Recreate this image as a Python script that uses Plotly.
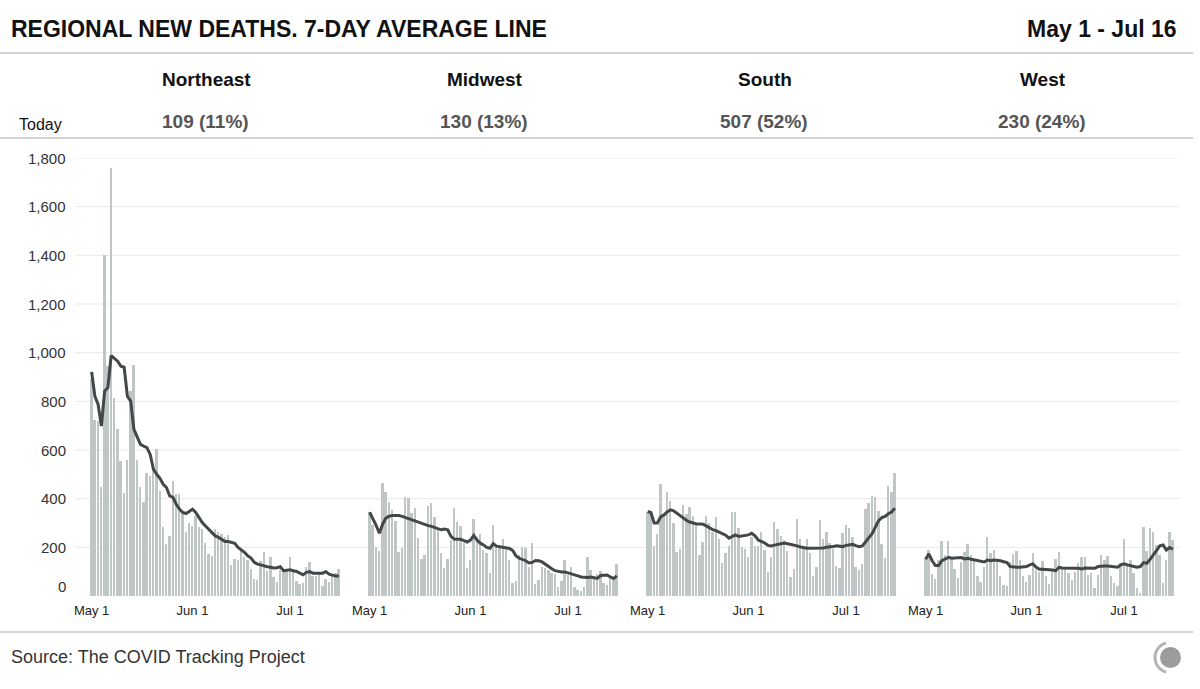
import math
import pandas as pd
import plotly.graph_objects as go

# ---------------- data ----------------
dates = pd.date_range("2020-05-01", "2020-07-16", freq="D")
regions = ["Northeast", "Midwest", "South", "West"]
today_labels = ["109 (11%)", "130 (13%)", "507 (52%)", "230 (24%)"]

ne_deaths = [890, 725, 718, 449, 1400, 945, 1760, 815, 686, 554,
             424, 558, 842, 951, 560, 446, 388, 507, 493, 535,
             603, 432, 282, 213, 247, 473, 418, 421, 336, 261,
             298, 288, 327, 282, 275, 216, 172, 165, 275, 261,
             254, 241, 250, 128, 152, 148, 183, 161, 148, 111,
             70, 67, 145, 182, 104, 159, 79, 56, 107, 104,
             104, 161, 104, 63, 49, 52, 118, 138, 83, 83,
             90, 42, 70, 56, 90, 95, 109]
ne_avg = [921, 821, 787, 698, 842, 856, 988, 976, 965, 944,
          940, 821, 801, 685, 650, 623, 616, 610, 582, 521,
          500, 484, 459, 446, 411, 405, 377, 357, 343, 339,
          347, 357, 343, 322, 302, 288, 275, 258, 247, 241,
          234, 224, 224, 219, 217, 200, 190, 179, 165, 156,
          138, 131, 128, 123, 120, 118, 115, 116, 120, 104,
          107, 108, 104, 101, 94, 87, 97, 100, 94, 93,
          94, 94, 100, 90, 86, 82, 82]

mw_deaths = [347, 292, 203, 185, 464, 429, 386, 354, 309, 180,
             196, 406, 402, 343, 361, 237, 151, 169, 370, 381,
             324, 272, 178, 117, 152, 230, 361, 306, 289, 217,
             117, 148, 316, 244, 254, 189, 178, 96, 291, 203,
             203, 235, 203, 148, 55, 63, 169, 200, 196, 121,
             217, 49, 66, 121, 117, 107, 93, 91, 38, 63,
             148, 86, 121, 38, 25, 22, 38, 159, 107, 82,
             91, 103, 52, 45, 80, 66, 130]
mw_avg = [344, 320, 290, 258, 295, 320, 328, 331, 331, 331,
          327, 322, 317, 312, 308, 305, 298, 292, 289, 286,
          282, 278, 272, 275, 272, 245, 234, 233, 233, 228,
          222, 230, 249, 230, 217, 210, 200, 196, 215, 205,
          202, 201, 198, 195, 187, 165, 155, 150, 145, 136,
          138, 146, 145, 140, 130, 122, 112, 104, 100, 99,
          99, 95, 93, 90, 83, 78, 76, 76, 78, 76,
          72, 84, 86, 86, 78, 72, 82]

so_deaths = [347, 340, 206, 255, 460, 333, 427, 392, 299, 180,
             192, 372, 336, 365, 327, 299, 169, 221, 329, 299,
             261, 324, 233, 134, 176, 206, 344, 347, 279, 200,
             192, 159, 241, 206, 206, 261, 189, 97, 159, 303,
             274, 248, 230, 185, 77, 110, 316, 236, 195, 233,
             176, 82, 118, 311, 233, 262, 217, 192, 123, 114,
             258, 291, 279, 244, 118, 107, 132, 357, 381, 409,
             405, 351, 213, 155, 454, 427, 507]
so_avg = [347, 343, 300, 300, 325, 333, 345, 354, 350, 340,
          330, 318, 310, 304, 299, 296, 296, 295, 288, 280,
          273, 269, 262, 256, 250, 238, 244, 251, 245, 247,
          247, 251, 258, 247, 230, 224, 218, 208, 206, 209,
          213, 216, 218, 215, 213, 208, 206, 201, 197, 196,
          196, 196, 196, 196, 197, 200, 200, 203, 206, 206,
          203, 208, 210, 212, 207, 203, 206, 222, 236, 256,
          283, 310, 322, 327, 338, 345, 361]

we_deaths = [155, 189, 91, 69, 148, 226, 169, 226, 159, 110,
             73, 141, 180, 213, 169, 144, 82, 59, 118, 241,
             176, 189, 141, 82, 45, 41, 141, 171, 185, 148,
             82, 56, 86, 176, 107, 100, 144, 82, 49, 107,
             151, 180, 110, 114, 96, 66, 100, 134, 161, 161,
             86, 96, 32, 86, 169, 148, 165, 84, 55, 41,
             134, 235, 134, 148, 93, 34, 14, 283, 185, 279,
             262, 210, 169, 55, 148, 265, 230]
we_avg = [151, 173, 145, 125, 125, 145, 152, 159, 155, 155,
          156, 158, 152, 155, 151, 148, 145, 143, 140, 148,
          145, 148, 148, 145, 141, 137, 121, 118, 118, 118,
          118, 121, 128, 132, 118, 110, 110, 110, 107, 107,
          104, 118, 115, 114, 114, 114, 114, 114, 111, 115,
          115, 114, 114, 121, 123, 123, 123, 121, 118, 118,
          128, 132, 128, 123, 121, 118, 121, 137, 134, 151,
          169, 189, 206, 210, 189, 199, 192]

deaths = [ne_deaths, mw_deaths, so_deaths, we_deaths]
averages = [ne_avg, mw_avg, so_avg, we_avg]

y_ticks = [0, 200, 400, 600, 800, 1000, 1200, 1400, 1600, 1800]
x_tickvals = ["2020-05-01", "2020-06-01", "2020-07-01"]
x_ticktext = ["May 1", "Jun 1", "Jul 1"]

# ---------------- style / layout helpers ----------------
W, H = 1200, 689
T, B = 158, 93
FONT = "Liberation Sans, Arial, Helvetica, sans-serif"
BAR = "#c0c5c5"
LINE = "#424849"
SEP = "#c6c6c6"
GRID = "#e9e9e9"


def px(x):
    return x / W


def py(y):
    return (H - B - y) / (H - T - B)


panel_px = [(90, 340.5), (368, 618.5), (646, 896.5), (924, 1174.5)]
header_px = [206, 485, 765, 1043]
day_ms = 86400000
x_range = [dates[0] - pd.Timedelta(hours=12), dates[-1] + pd.Timedelta(hours=12)]

fig = go.Figure()
layout_axes = {}
for k in range(4):
    xa = "x" if k == 0 else f"x{k + 1}"
    fig.add_trace(go.Bar(x=dates, y=deaths[k], xaxis=xa, yaxis="y",
                         marker=dict(color=BAR, line=dict(width=0)),
                         width=0.58 * day_ms, showlegend=False))
    fig.add_trace(go.Scatter(x=dates, y=averages[k], xaxis=xa, yaxis="y",
                             mode="lines", line=dict(color=LINE, width=3),
                             showlegend=False))
    key = "xaxis" if k == 0 else f"xaxis{k + 1}"
    layout_axes[key] = dict(
        domain=[px(panel_px[k][0]), px(panel_px[k][1])], anchor="y",
        type="date", range=x_range, tickvals=x_tickvals, ticktext=x_ticktext,
        showgrid=False, zeroline=False, showline=False, ticks="",
        ticklabelstandoff=5,
        tickfont=dict(family=FONT, size=13, color="#222"),
    )

fig.update_layout(
    width=W, height=H, autosize=False,
    margin=dict(l=0, r=0, t=T, b=B, pad=0, autoexpand=False),
    paper_bgcolor="white", plot_bgcolor="white",
    bargap=0, showlegend=False,
    yaxis=dict(domain=[0, 1], anchor="x", range=[0, 1800], showgrid=False,
               zeroline=False, showline=False, showticklabels=False, ticks=""),
    font=dict(family=FONT),
    **layout_axes,
)

shapes = []
for v in y_ticks[1:]:
    shapes.append(dict(type="line", xref="paper", yref="y", x0=px(75), x1=px(1180),
                       y0=v, y1=v, line=dict(color=GRID, width=1), layer="below"))
for yy in (53, 138, 632):
    shapes.append(dict(type="line", xref="paper", yref="paper", x0=0, x1=px(1193),
                       y0=py(yy), y1=py(yy), line=dict(color=SEP, width=1.5)))
# logo
shapes.append(dict(type="circle", xref="paper", yref="paper",
                   x0=px(1160), x1=px(1181), y0=py(668), y1=py(647),
                   fillcolor="#9c9c9c", line=dict(width=0)))
cx, cy, r = 1170, 657.5, 15
pts = []
for a in range(105, 256, 5):
    t = math.radians(a)
    pts.append((px(cx + r * math.cos(t)), py(cy - r * math.sin(t))))
path = "M " + " L ".join(f"{x:.5f},{y:.5f}" for x, y in pts)
shapes.append(dict(type="path", xref="paper", yref="paper", path=path,
                   line=dict(color="#b4b4b4", width=3)))

ann = []
ann.append(dict(text="<b>REGIONAL NEW DEATHS. 7-DAY AVERAGE LINE</b>", x=px(9), y=py(29),
                xref="paper", yref="paper", xanchor="left", yanchor="middle", showarrow=False,
                font=dict(family=FONT, size=23, color="#111")))
ann.append(dict(text="<b>May 1 - Jul 16</b>", x=px(1179), y=py(29),
                xref="paper", yref="paper", xanchor="right", yanchor="middle", showarrow=False,
                font=dict(family=FONT, size=23, color="#111")))
ann.append(dict(text="Today", x=px(17), y=py(124), xref="paper", yref="paper",
                xanchor="left", yanchor="middle", showarrow=False,
                font=dict(family=FONT, size=16, color="#111")))
for k in range(4):
    cxp = header_px[k]
    ann.append(dict(text=f"<b>{regions[k]}</b>", x=px(cxp), y=py(80), xref="paper", yref="paper",
                    xanchor="center", yanchor="middle", showarrow=False,
                    font=dict(family=FONT, size=19, color="#111")))
    ann.append(dict(text=f"<b>{today_labels[k]}</b>", x=px(cxp - 1), y=py(122), xref="paper", yref="paper",
                    xanchor="center", yanchor="middle", showarrow=False,
                    font=dict(family=FONT, size=19, color="#555")))
for v in y_ticks:
    ann.append(dict(text=f"{v:,}", x=px(68), y=v, xref="paper", yref="y",
                    xanchor="right", yanchor="middle", showarrow=False,
                    yshift=10 if v == 0 else 0,
                    font=dict(family=FONT, size=15, color="#333")))
ann.append(dict(text="Source: The COVID Tracking Project", x=px(9), y=py(657),
                xref="paper", yref="paper", xanchor="left", yanchor="middle", showarrow=False,
                font=dict(family=FONT, size=18, color="#333")))

fig.update_layout(shapes=shapes, annotations=ann)

page_fix = ("document.documentElement.style.margin='0';"
            "document.documentElement.style.overflow='hidden';"
            "document.body.style.margin='0';"
            "document.body.style.padding='0';"
            "document.body.style.overflow='hidden';")
fig.write_html("out.html", config={"responsive": False, "displayModeBar": False},
               post_script=page_fix)
